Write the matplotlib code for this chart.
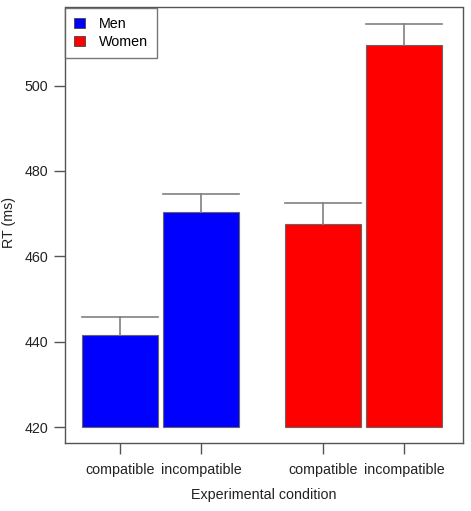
import matplotlib
matplotlib.use('Agg')
import matplotlib.pyplot as plt
from matplotlib.patches import Patch

plt.rcParams['font.family'] = ['Liberation Sans', 'DejaVu Sans']

groups = ['Men', 'Women']
conditions = ['compatible', 'incompatible']
men_rt = [441.6, 470.3]
women_rt = [467.6, 509.4]
men_err = [4.1, 4.2]
women_err = [4.8, 5.1]
group_colors = ['#0000ff', '#ff0000']
yticks = [420, 440, 460, 480, 500]

fig = plt.figure(figsize=(4.71, 5.11), dpi=100)
ax = fig.add_axes([65 / 471, (511 - 443.3) / 511, (463 - 65) / 471, (443.3 - 7.5) / 511])

base = 420
inner_gap = 0.07
group_gap = 0.61
xs = []
labels = []
values = [men_rt, women_rt]
errs = [men_err, women_err]
x = 0.0
for g in range(len(groups)):
    for c in range(len(conditions)):
        v = values[g][c]
        ax.bar(x, v - base, bottom=base, width=1.0, color=group_colors[g],
               edgecolor='#666666', linewidth=0.8)
        top = v + errs[g][c]
        ax.plot([x, x], [v, top], color='#808080', lw=1.2)
        ax.plot([x - 0.5, x + 0.5], [top, top], color='#808080', lw=1.2)
        xs.append(x)
        labels.append(conditions[c])
        x += 1.0 + inner_gap
    x += group_gap - inner_gap

ax.set_xlim(-0.73, 4.527)
ax.set_ylim(416.2, 518.3)
ax.set_xticks(xs)
ax.set_xticklabels(labels, fontsize=10.3, color='#222222')
ax.set_yticks(yticks)
ax.set_yticklabels([str(t) for t in yticks], fontsize=10.3, color='#222222')
ax.tick_params(axis='both', length=8, width=1, color='#555555', pad=4)
ax.tick_params(axis='x', pad=6)
for s in ax.spines.values():
    s.set_color('#555555')
    s.set_linewidth(1)

ax.set_xlabel('Experimental condition', fontsize=10.3, color='#222222', labelpad=8)
fig.text(9.5 / 471, 1 - 222 / 511, 'RT (ms)', rotation=90, ha='center', va='center',
         fontsize=10.3, color='#222222')

handles = [Patch(facecolor=group_colors[i], edgecolor='#444444', linewidth=0.6, label=groups[i])
           for i in range(len(groups))]
leg = ax.legend(handles=handles, loc='upper left', fontsize=10.3, frameon=True, fancybox=False,
                borderaxespad=0, handlelength=0.75, handleheight=0.75, handletextpad=0.95,
                borderpad=0.65, labelspacing=0.3)
leg.get_frame().set_edgecolor('#555555')
leg.get_frame().set_linewidth(1)

fig.savefig('out.png', dpi=100)
